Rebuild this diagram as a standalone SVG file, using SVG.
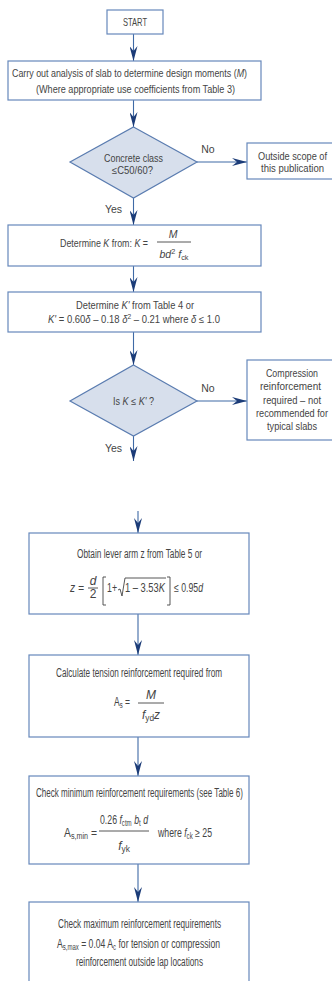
<svg xmlns="http://www.w3.org/2000/svg" width="332" height="981" viewBox="0 0 332 981">
<style>
.box{fill:#fff;stroke:#6688bb;stroke-width:1.2}
.dia{fill:#d7dfec;stroke:#5a7cb0;stroke-width:1.2}
.t{font-family:"Liberation Sans",Arial,sans-serif;font-size:10.5px;fill:#444;text-anchor:middle}
.l{font-family:"Liberation Sans",Arial,sans-serif;font-size:12px;fill:#444;text-anchor:middle}
.s{font-size:70%}
.i{font-style:italic}
.c{stroke:#3f6aa6;stroke-width:1.1;fill:none}
.f{stroke:#444;stroke-width:0.9;fill:none}
</style>
<defs>
<marker id="ah" viewBox="0 0 15 8" refX="15" refY="4" markerWidth="15" markerHeight="8" markerUnits="userSpaceOnUse" orient="auto">
<path d="M0,0 L15,4 L0,8 L5,4 z" fill="#1c3c78"/>
</marker>
</defs>
<rect width="332" height="981" fill="#fff"/>
<g id="connectors">
<line class="c" x1="133.5" y1="34" x2="133.5" y2="61" marker-end="url(#ah)"/>
<line class="c" x1="133.5" y1="100" x2="133.5" y2="127" marker-end="url(#ah)"/>
<line class="c" x1="197" y1="162" x2="247" y2="162" marker-end="url(#ah)"/>
<line class="c" x1="133.5" y1="198" x2="133.5" y2="225" marker-end="url(#ah)"/>
<line class="c" x1="133.5" y1="266" x2="133.5" y2="292" marker-end="url(#ah)"/>
<line class="c" x1="133.5" y1="332" x2="133.5" y2="365" marker-end="url(#ah)"/>
<line class="c" x1="197" y1="401" x2="247" y2="401" marker-end="url(#ah)"/>
<line class="c" x1="133.5" y1="436" x2="133.5" y2="461" marker-end="url(#ah)"/>
<line class="c" x1="138" y1="511" x2="138" y2="533" marker-end="url(#ah)"/>
<line class="c" x1="138" y1="614" x2="138" y2="655" marker-end="url(#ah)"/>
<line class="c" x1="138" y1="737" x2="138" y2="776" marker-end="url(#ah)"/>
<line class="c" x1="138" y1="864" x2="138" y2="902" marker-end="url(#ah)"/>
<text class="t" x="208" y="153">No</text>
<text class="t" x="113.5" y="213">Yes</text>
<text class="t" x="208" y="392">No</text>
<text class="t" x="113.5" y="452">Yes</text>
</g>
<g id="start">
<rect class="box" x="107" y="10" width="56" height="24"/>
<text class="t" x="135" y="26" textLength="24" lengthAdjust="spacingAndGlyphs">START</text>
</g>
<g id="analysis">
<rect class="box" x="8" y="61" width="253" height="39"/>
<text class="t" x="129.5" y="77" textLength="235" lengthAdjust="spacingAndGlyphs">Carry out analysis of slab to determine design moments (<tspan class="i">M</tspan>)</text>
<text class="t" x="135.5" y="93" textLength="199" lengthAdjust="spacingAndGlyphs">(Where appropriate use coefficients from Table 3)</text>
</g>
<g id="concrete">
<polygon class="dia" points="133.5,127 197,162 133.5,198 70,162"/>
<text class="t" x="133.5" y="162" textLength="59" lengthAdjust="spacingAndGlyphs">Concrete class</text>
<text class="t" x="132.5" y="174" textLength="41" lengthAdjust="spacingAndGlyphs">≤C50/60?</text>
</g>
<g id="outside">
<rect class="box" x="247" y="143" width="95" height="36"/>
<text class="t" x="292.5" y="160" textLength="69" lengthAdjust="spacingAndGlyphs">Outside scope of</text>
<text class="t" x="292.5" y="172" textLength="63" lengthAdjust="spacingAndGlyphs">this publication</text>
</g>
<g id="determineK">
<rect class="box" x="8" y="225" width="253" height="41"/>
<text class="t" x="104" y="247" textLength="88" lengthAdjust="spacingAndGlyphs">Determine <tspan class="i">K</tspan> from: <tspan class="i">K</tspan> =</text>
<line class="f" x1="157" y1="242" x2="191" y2="242"/>
<text class="t i" x="173" y="238">M</text>
<text class="t" x="174" y="258"><tspan class="i">bd</tspan><tspan class="s" dy="-4">2</tspan><tspan dy="4"> </tspan><tspan class="i">f</tspan><tspan class="s" dy="2">ck</tspan></text>
</g>
<g id="determineK2">
<rect class="box" x="8" y="292" width="253" height="40"/>
<text class="t" x="135" y="309" textLength="118" lengthAdjust="spacingAndGlyphs">Determine <tspan class="i">K'</tspan> from Table 4 or</text>
<text class="t" x="134" y="323" textLength="172" lengthAdjust="spacingAndGlyphs"><tspan class="i">K'</tspan> = 0.60<tspan class="i">δ</tspan> – 0.18 <tspan class="i">δ</tspan><tspan class="s" dy="-4">2</tspan><tspan dy="4"> – 0.21 where </tspan><tspan class="i">δ</tspan> ≤ 1.0</text>
</g>
<g id="isK">
<polygon class="dia" points="133.5,365 197,401 133.5,436 70,401"/>
<text class="t" x="133.5" y="405" textLength="41" lengthAdjust="spacingAndGlyphs">Is <tspan class="i">K</tspan> ≤ <tspan class="i">K'</tspan> ?</text>
</g>
<g id="compression">
<rect class="box" x="247" y="360" width="95" height="80"/>
<text class="t" x="292" y="377" textLength="52" lengthAdjust="spacingAndGlyphs">Compression</text>
<text class="t" x="290.5" y="390" textLength="61" lengthAdjust="spacingAndGlyphs">reinforcement</text>
<text class="t" x="292" y="404" textLength="58" lengthAdjust="spacingAndGlyphs">required – not</text>
<text class="t" x="292" y="417" textLength="72" lengthAdjust="spacingAndGlyphs">recommended for</text>
<text class="t" x="292" y="430" textLength="50" lengthAdjust="spacingAndGlyphs">typical slabs</text>
</g>
<g id="leverarm">
<rect class="box" x="29" y="533" width="220" height="81"/>
<text class="l" x="139.5" y="558" textLength="125" lengthAdjust="spacingAndGlyphs">Obtain lever arm z from Table 5 or</text>
<text class="l i" x="77" y="592" textLength="14" lengthAdjust="spacingAndGlyphs">z =</text>
<line class="f" x1="88" y1="588" x2="98" y2="588"/>
<text class="l i" x="93" y="585">d</text>
<text class="l" x="93" y="598">2</text>
<path class="f" d="M106,577 H103 V605 H106 M167,577 H170 V605 H167"/>
<text class="l" x="112" y="592" textLength="10" lengthAdjust="spacingAndGlyphs">1+</text>
<path class="f" d="M118,590 L120,589 L122,596 L125,578 H166"/>
<text class="l" x="145" y="592" textLength="40" lengthAdjust="spacingAndGlyphs">1 – 3.53<tspan class="i">K</tspan></text>
<text class="l" x="188.5" y="592" textLength="29" lengthAdjust="spacingAndGlyphs">≤ 0.95<tspan class="i">d</tspan></text>
</g>
<g id="tension">
<rect class="box" x="29" y="655" width="220" height="82"/>
<text class="l" x="139" y="677" textLength="166" lengthAdjust="spacingAndGlyphs">Calculate tension reinforcement required from</text>
<text class="l" x="122" y="706" textLength="16" lengthAdjust="spacingAndGlyphs">A<tspan class="s" dy="2">s</tspan><tspan dy="-2"> =</tspan></text>
<line class="f" x1="138" y1="703" x2="164" y2="703"/>
<text class="l i" x="151" y="699">M</text>
<text class="l" x="151" y="719" textLength="18" lengthAdjust="spacingAndGlyphs"><tspan class="i">f</tspan><tspan class="s" dy="2">yd</tspan><tspan class="i" dy="-2">z</tspan></text>
</g>
<g id="minimum">
<rect class="box" x="29" y="776" width="220" height="88"/>
<text class="l" x="139.5" y="797" textLength="207" lengthAdjust="spacingAndGlyphs">Check minimum reinforcement requirements (see Table 6)</text>
<text class="l" x="80.5" y="837" textLength="33" lengthAdjust="spacingAndGlyphs">A<tspan class="s" dy="2">s,min</tspan><tspan dy="-2"> =</tspan></text>
<line class="f" x1="99" y1="831" x2="149" y2="831"/>
<text class="l" x="124" y="824" textLength="48" lengthAdjust="spacingAndGlyphs">0.26 <tspan class="i">f</tspan><tspan class="s" dy="2">ctm</tspan><tspan dy="-2"> </tspan><tspan class="i">b</tspan><tspan class="s" dy="2">t</tspan><tspan dy="-2"> </tspan><tspan class="i">d</tspan></text>
<text class="l" x="124" y="850"><tspan class="i">f</tspan><tspan class="s" dy="2">yk</tspan></text>
<text class="l" x="185" y="837" textLength="54" lengthAdjust="spacingAndGlyphs">where <tspan class="i">f</tspan><tspan class="s" dy="2">ck</tspan><tspan dy="-2"> ≥ 25</tspan></text>
</g>
<g id="maximum">
<rect class="box" x="29" y="902" width="220" height="90"/>
<text class="l" x="139.5" y="928" textLength="163" lengthAdjust="spacingAndGlyphs">Check maximum reinforcement requirements</text>
<text class="l" x="138.5" y="948" textLength="163" lengthAdjust="spacingAndGlyphs">A<tspan class="s" dy="2">s,max</tspan><tspan dy="-2"> = 0.04 A</tspan><tspan class="s" dy="2">c</tspan><tspan dy="-2">  for tension or compression</tspan></text>
<text class="l" x="139.5" y="966" textLength="127" lengthAdjust="spacingAndGlyphs">reinforcement outside lap locations</text>
</g>
</svg>
